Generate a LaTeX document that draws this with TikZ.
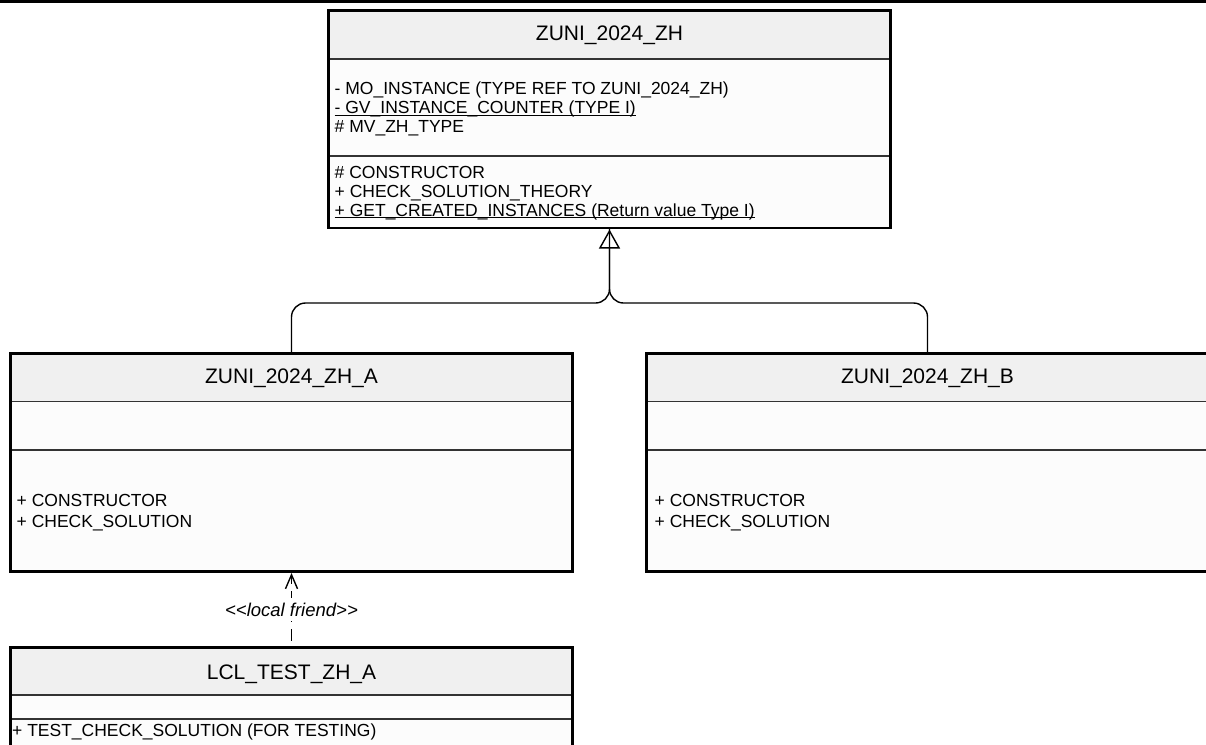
\documentclass[tikz,border=0pt]{standalone}
\usepackage{fontspec}
\setmainfont{Liberation Sans}
\usetikzlibrary{arrows.meta}
\definecolor{hdr}{HTML}{F0F0F0}
\definecolor{bodyc}{HTML}{FCFCFC}
\definecolor{sepc}{HTML}{333333}
\newcommand\ulx[1]{\underline{\smash{#1}}}
\begin{document}
\begin{tikzpicture}[x=1pt,y=-1pt,
  box/.style={rectangle, fill=bodyc, minimum width=562pt, anchor=north west, inner sep=0pt, outer sep=0pt},
  frame/.style={draw=black, line width=2.8pt},
  sep/.style={draw=sepc, line width=1.4pt},
  ttl/.style={font=\fontsize{21}{25}\selectfont, anchor=base, inner sep=0pt},
  mem/.style={font=\fontsize{17.5}{20}\selectfont, anchor=base west, inner sep=0pt},
  gen/.style={draw=black, line width=1.4pt, rounded corners=14pt},
  dep/.style={draw=black, line width=1.4pt, dash pattern=on 12pt off 7pt, dash phase=12pt},
  lbl/.style={font=\fontsize{18.5}{22}\selectfont\itshape, fill=white, inner xsep=1pt, inner ysep=5pt, anchor=base}]
\useasboundingbox (0,0) rectangle (1206,744);
\clip (0,0) rectangle (1206,744);
% top rule
\fill[black] (0,0) rectangle (1206,2.7);

% ---- ZUNI_2024_ZH ----
\node[box, minimum height=217.5pt] (Z) at (328.5,10.5) {};
\fill[hdr] (Z.north west) rectangle ([yshift=-48.5pt]Z.north east);
\draw[sep] ([yshift=-48.5pt]Z.north west) -- ([yshift=-48.5pt]Z.north east);
\draw[sep] ([yshift=-145.5pt]Z.north west) -- ([yshift=-145.5pt]Z.north east);
\draw[frame] (Z.north west) rectangle (Z.south east);
\node[ttl] (Zt) at (609.5,40) {ZUNI\_2024\_ZH};
\node[mem] (Za1) at (334.5,94.5) {- MO\_INSTANCE (TYPE REF TO ZUNI\_2024\_ZH)};
\node[mem] (Za2) at (334.5,113.5) {\ulx{- GV\_INSTANCE\_COUNTER (TYPE I)}};
\node[mem] (Za3) at (334.5,132.5) {\# MV\_ZH\_TYPE};
\node[mem] (Zm1) at (334.5,178) {\# CONSTRUCTOR};
\node[mem] (Zm2) at (334.5,197) {+ CHECK\_SOLUTION\_THEORY};
\node[mem] (Zm3) at (334.5,216) {\ulx{+ GET\_CREATED\_INSTANCES (Return value Type I)}};

% ---- ZUNI_2024_ZH_A ----
\node[box, minimum height=218pt] (A) at (10.5,353.5) {};
\fill[hdr] (A.north west) rectangle ([yshift=-48pt]A.north east);
\draw[sep] ([yshift=-48pt]A.north west) -- ([yshift=-48pt]A.north east);
\draw[sep] ([yshift=-96.5pt]A.north west) -- ([yshift=-96.5pt]A.north east);
\draw[frame] (A.north west) rectangle (A.south east);
\node[ttl] (At) at (291.5,383) {ZUNI\_2024\_ZH\_A};
\node[mem] (Am1) at (16.5,506.5) {+ CONSTRUCTOR};
\node[mem] (Am2) at (16.5,527.5) {+ CHECK\_SOLUTION};

% ---- ZUNI_2024_ZH_B ----
\node[box, minimum height=218pt] (B) at (646.5,353.5) {};
\fill[hdr] (B.north west) rectangle ([yshift=-48pt]B.north east);
\draw[sep] ([yshift=-48pt]B.north west) -- ([yshift=-48pt]B.north east);
\draw[sep] ([yshift=-96.5pt]B.north west) -- ([yshift=-96.5pt]B.north east);
\draw[frame] (B.north west) rectangle (B.south east);
\node[ttl] (Bt) at (927.5,383) {ZUNI\_2024\_ZH\_B};
\node[mem] (Bm1) at (654.5,506.5) {+ CONSTRUCTOR};
\node[mem] (Bm2) at (654.5,527.5) {+ CHECK\_SOLUTION};

% ---- LCL_TEST_ZH_A ----
\node[box, minimum height=120pt] (L) at (10.5,647.5) {};
\fill[hdr] (L.north west) rectangle ([yshift=-47.5pt]L.north east);
\draw[sep] ([yshift=-47.5pt]L.north west) -- ([yshift=-47.5pt]L.north east);
\draw[sep] ([yshift=-71.5pt]L.north west) -- ([yshift=-71.5pt]L.north east);
\draw[frame] (L.north west) rectangle (L.south east);
\node[ttl] (Lt) at (291.5,679) {LCL\_TEST\_ZH\_A};
\node[mem] (Lm1) at (12,736.5) {+ TEST\_CHECK\_SOLUTION (FOR TESTING)};

% ---- generalisation ----
\coordinate (j) at (609.5,303);
\draw[gen] (B.north) |- (j) -- (Z.south);
\draw[gen, -{Triangle[open, length=19pt, width=21pt, line width=1.4pt]}] (A.north) |- (j) -- ([yshift=-1.5pt]Z.south);

% ---- local friend dependency ----
\draw[dep, -{Straight Barb[length=14pt, width=12pt, line width=1.4pt]}] (L.north) -- ([yshift=-1.5pt]A.south);
\node[lbl] (fr) at (291.5,616) {<{}<local friend>{}>};
\end{tikzpicture}
\end{document}
